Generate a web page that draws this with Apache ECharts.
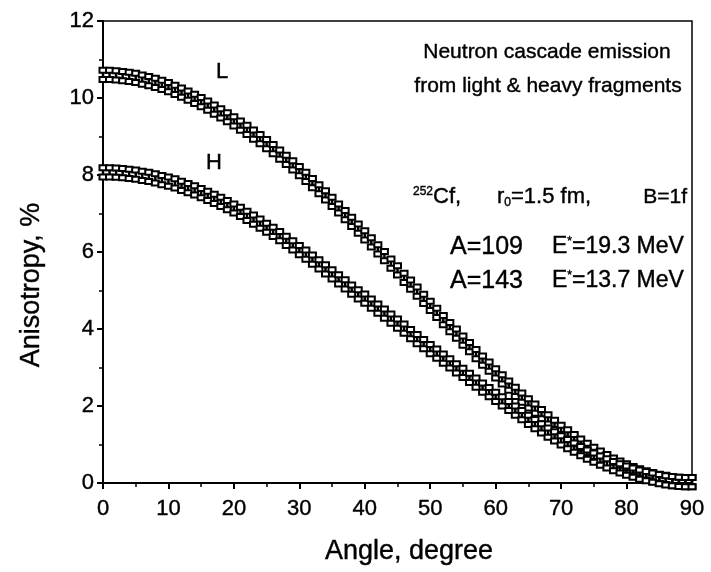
<!DOCTYPE html>
<html><head><meta charset="utf-8">
<script src="https://cdn.jsdelivr.net/npm/echarts@6/dist/echarts.min.js"></script>
<style>html,body{margin:0;padding:0;background:#fff}#c{width:711px;height:572px}</style>
</head><body><div id="c"></div>
<script>
const angles = [0,1,2,3,4,5,6,7,8,9,10,11,12,13,14,15,16,17,18,19,20,21,22,23,24,25,26,27,28,29,30,31,32,33,34,35,36,37,38,39,40,41,42,43,44,45,46,47,48,49,50,51,52,53,54,55,56,57,58,59,60,61,62,63,64,65,66,67,68,69,70,71,72,73,74,75,76,77,78,79,80,81,82,83,84,85,86,87,88,89,90];
const lightL = [10.60,10.60,10.59,10.57,10.55,10.52,10.48,10.44,10.39,10.34,10.28,10.21,10.14,10.06,9.98,9.89,9.80,9.70,9.60,9.50,9.39,9.28,9.17,9.05,8.93,8.80,8.67,8.53,8.39,8.25,8.10,7.95,7.79,7.63,7.47,7.30,7.13,6.96,6.78,6.61,6.43,6.25,6.07,5.89,5.70,5.52,5.33,5.15,4.97,4.78,4.60,4.42,4.23,4.05,3.88,3.70,3.53,3.35,3.18,3.02,2.85,2.69,2.53,2.37,2.22,2.07,1.93,1.79,1.65,1.51,1.38,1.26,1.14,1.02,0.91,0.81,0.71,0.62,0.53,0.45,0.38,0.31,0.25,0.20,0.15,0.11,0.08,0.05,0.03,0.02,0.02];
const heavyH = [8.07,8.07,8.06,8.05,8.03,8.01,7.98,7.95,7.91,7.87,7.83,7.78,7.72,7.66,7.60,7.53,7.46,7.38,7.30,7.22,7.13,7.04,6.94,6.84,6.74,6.63,6.52,6.41,6.29,6.17,6.05,5.93,5.80,5.68,5.55,5.42,5.29,5.16,5.02,4.90,4.79,4.66,4.53,4.40,4.27,4.14,4.01,3.87,3.74,3.61,3.48,3.36,3.23,3.11,2.98,2.86,2.73,2.61,2.48,2.36,2.24,2.12,2.00,1.88,1.76,1.64,1.53,1.42,1.31,1.21,1.11,1.01,0.92,0.83,0.74,0.66,0.58,0.51,0.44,0.38,0.32,0.27,0.22,0.18,0.14,0.10,0.07,0.05,0.03,0.02,0.02];
const errorBar = 0.12;
const xTicks = [0,10,20,30,40,50,60,70,80,90];
const yTicks = [0,2,4,6,8,10,12];

const FONT = '"Liberation Sans", Arial, sans-serif';
const chart = echarts.init(document.getElementById('c'), null, {renderer:'canvas'});

function renderItem(params, api) {
  const x = api.value(0), v = api.value(1), e = api.value(2);
  const top = api.coord([x, v + e]);
  const bot = api.coord([x, v - e]);
  const w = 7, h = 5;
  return {type:'group', children:[
    {type:'line', shape:{x1:top[0], y1:top[1], x2:bot[0], y2:bot[1]}, style:{stroke:'#000', lineWidth:2.5}},
    {type:'rect', shape:{x:top[0]-w/2, y:top[1]-h/2, width:w, height:h}, style:{fill:'#fff', stroke:'#000', lineWidth:2}},
    {type:'rect', shape:{x:bot[0]-w/2, y:bot[1]-h/2, width:w, height:h}, style:{fill:'#fff', stroke:'#000', lineWidth:2}}
  ]};
}

const txt = (opt) => Object.assign({type:'text', z:10}, opt);
const baseStyle = {fill:'#000', fontFamily:FONT, fontSize:21, verticalAlign:'middle', stroke:'#000', lineWidth:0.4};
const rich = {
  sup:{fontSize:12, fontFamily:FONT, fill:'#000', verticalAlign:'top', padding:[0,0,10,0]},
  sub:{fontSize:12, fontFamily:FONT, fill:'#000', padding:[12,0,0,0]}
};
const S = (o) => Object.assign({}, baseStyle, o);

chart.setOption({
  animation:false,
  backgroundColor:'#fff',
  grid:{left:103, right:19, top:21, bottom:89, show:true, borderColor:'#000', borderWidth:1.5},
  xAxis:{type:'value', min:0, max:90, interval:10,
    axisLine:{lineStyle:{color:'#000', width:2}},
    axisTick:{length:6, lineStyle:{color:'#000', width:2}},
    minorTick:{show:true, splitNumber:2, length:4, lineStyle:{color:'#000', width:1.5}},
    axisLabel:{fontFamily:FONT, fontSize:22, color:'#000', margin:15, textBorderColor:'#000', textBorderWidth:0.4,
      formatter:(v)=> xTicks.includes(v) ? String(v) : ''},
    splitLine:{show:false}},
  yAxis:{type:'value', min:0, max:12, interval:2,
    axisLine:{lineStyle:{color:'#000', width:2}},
    axisTick:{length:6, lineStyle:{color:'#000', width:2}},
    minorTick:{show:true, splitNumber:2, length:4, lineStyle:{color:'#000', width:1.5}},
    axisLabel:{fontFamily:FONT, fontSize:22, color:'#000', margin:9, textBorderColor:'#000', textBorderWidth:0.4,
      formatter:(v)=> yTicks.includes(v) ? String(v) : ''},
    splitLine:{show:false}},
  series:[
    {name:'L', type:'custom', renderItem, clip:false,
      data: angles.map((a,i)=>[a, lightL[i], errorBar])},
    {name:'H', type:'custom', renderItem, clip:false,
      data: angles.map((a,i)=>[a, heavyH[i], errorBar])}
  ],
  graphic:[
    txt({x:409, y:552, style:S({text:'Angle, degree', fontSize:27, align:'center'})}),
    txt({x:32, y:285, rotation:Math.PI/2, style:S({text:'Anisotropy, %', fontSize:27, align:'center'})}),
    txt({x:547, y:52, style:S({text:'Neutron cascade emission', align:'center'})}),
    txt({x:548, y:86, style:S({text:'from light & heavy fragments', align:'center'})}),
    txt({x:413, y:197, style:S({text:'{sup|252}Cf,', fontSize:22, rich})}),
    txt({x:497, y:197, style:S({text:'r{sub|0}=1.5 fm,', fontSize:22, rich})}),
    txt({x:687, y:197, style:S({text:'B=1f', align:'right'})}),
    txt({x:450, y:247, style:S({text:'A=109', fontSize:25})}),
    txt({x:552, y:247, style:S({text:'E{sup|*}=19.3 MeV', fontSize:23, rich})}),
    txt({x:450, y:281, style:S({text:'A=143', fontSize:25})}),
    txt({x:552, y:281, style:S({text:'E{sup|*}=13.7 MeV', fontSize:23, rich})}),
    txt({x:222, y:72, style:S({text:'L', fontSize:22, align:'center'})}),
    txt({x:214, y:163, style:S({text:'H', fontSize:22, align:'center'})})
  ]
});
</script>
</body></html>
